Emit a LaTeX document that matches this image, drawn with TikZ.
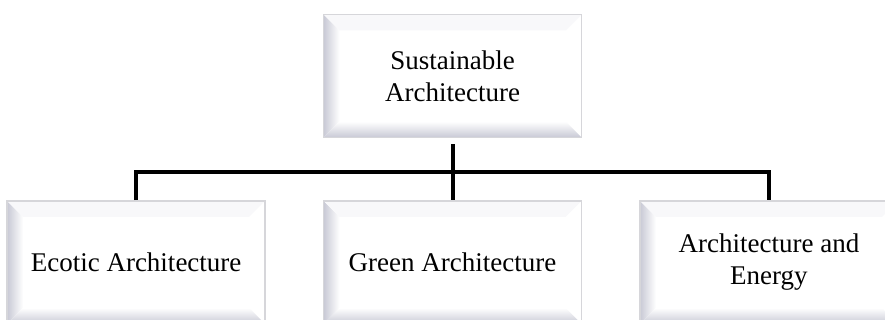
\documentclass[tikz,border=0pt]{standalone}
\usepackage{fontspec}
\setmainfont{Liberation Serif}
\usetikzlibrary{positioning,calc}

\definecolor{bevelshade}{RGB}{200,201,213}
\definecolor{topbevel}{RGB}{248,248,250}
\definecolor{boxedge}{RGB}{214,214,218}

\tikzset{
  bevelbox/.style={
    minimum width=258pt, minimum height=123pt, inner sep=0pt, align=center,
    font=\fontsize{27}{32}\selectfont, fill=white, draw=boxedge, line width=1.4pt,
    path picture={
      % bevel edges: shaded left and bottom, pale top
      \coordinate (bb-sw) at (path picture bounding box.south west);
      \coordinate (bb-nw) at (path picture bounding box.north west);
      \coordinate (bb-se) at (path picture bounding box.south east);
      \coordinate (bb-ne) at (path picture bounding box.north east);
      \shade[left color=bevelshade, right color=white]
        (bb-sw) -- (bb-nw) -- ($(bb-nw)+(16pt,-16pt)$) -- ($(bb-sw)+(16pt,16pt)$) -- cycle;
      \shade[top color=white, bottom color=bevelshade]
        (bb-sw) -- ($(bb-sw)+(16pt,16pt)$) -- ($(bb-se)+(-16pt,16pt)$) -- (bb-se) -- cycle;
      \fill[topbevel]
        (bb-nw) -- (bb-ne) -- ($(bb-ne)+(-16pt,-16pt)$) -- ($(bb-nw)+(16pt,-16pt)$) -- cycle;
    }
  },
  link/.style={line width=4pt}
}

\begin{document}
\begin{tikzpicture}[node distance=57pt]

\useasboundingbox (0,0) rectangle (885pt,320pt);

% Nodes
\node[bevelbox] (sustain) at (452.5pt,244pt) {Sustainable\\Architecture};
\node[bevelbox] (green) [below=62pt of sustain] {Green Architecture};
\node[bevelbox] (ecotic) [left=of green] {Ecotic Architecture};
\node[bevelbox] (energy) [right=of green] {Architecture and\\Energy};

% Tree lines
\draw[link] ([yshift=-6pt]sustain.south) -- (green.north);
\draw[link] (ecotic.north) |- ([yshift=-34pt]sustain.south) -| (energy.north);

\end{tikzpicture}
\end{document}
